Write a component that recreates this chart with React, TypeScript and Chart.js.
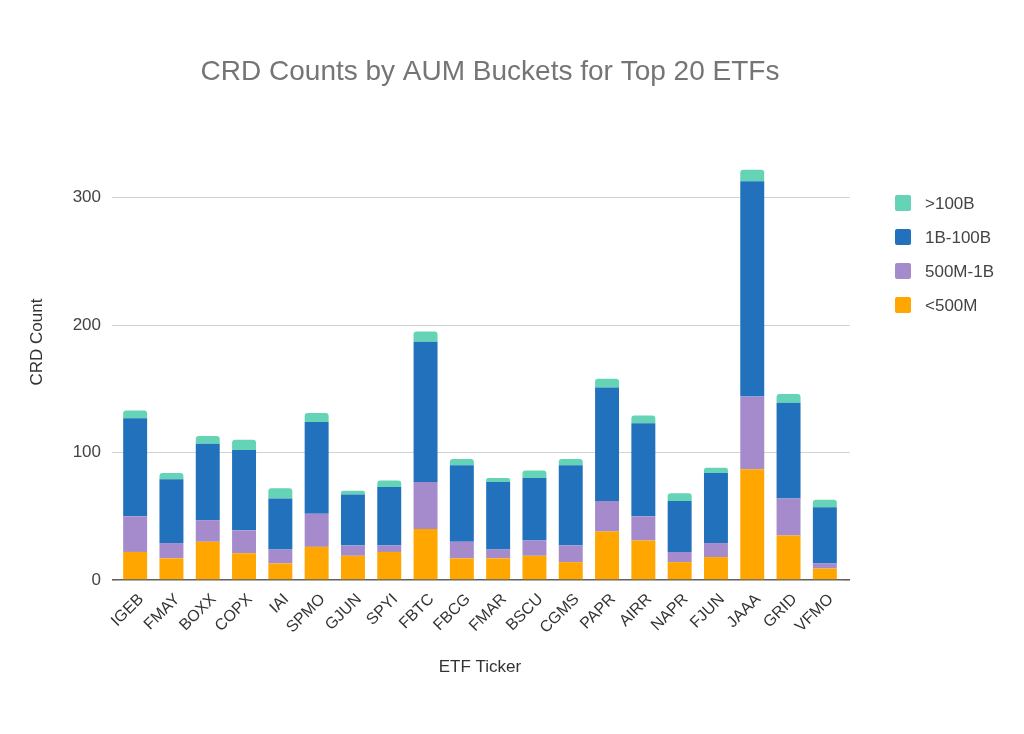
import React, { useEffect, useRef } from "react";
import { Chart, registerables } from "chart.js";

Chart.register(...registerables);

const tickers = [
  "IGEB", "FMAY", "BOXX", "COPX", "IAI", "SPMO", "GJUN", "SPYI", "FBTC", "FBCG",
  "FMAR", "BSCU", "CGMS", "PAPR", "AIRR", "NAPR", "FJUN", "JAAA", "GRID", "VFMO",
];
const under500M = [22, 17, 30, 21, 13, 26, 19, 22, 40, 17, 17, 19, 14, 38, 31, 14, 18, 87, 35, 9];
const m500To1B = [28, 12, 17, 18, 11, 26, 8, 5, 37, 13, 7, 12, 13, 24, 19, 8, 11, 57, 29, 4];
const b1To100B = [77, 50, 60, 63, 40, 72, 40, 46, 110, 60, 53, 49, 63, 89, 73, 40, 55, 169, 75, 44];
const over100B = [6, 5, 6, 8, 8, 7, 3, 5, 8, 5, 3, 6, 5, 7, 6, 6, 4, 9, 7, 6];
const yTicks = [0, 100, 200, 300];
const yMax = 350;
const yTitle = "CRD Count";

const FONT = '"Liberation Sans", Arial, sans-serif';

const sideLegend = {
  id: "sideLegend",
  afterDraw(chart: any) {
    const { ctx, chartArea } = chart;
    const items = [...chart.data.datasets].reverse();
    const boxX = chartArea.right + 52;
    const firstY = chartArea.top + 69;
    const step = 34;
    const size = 16;
    ctx.save();
    ctx.font = `17px ${FONT}`;
    ctx.textBaseline = "middle";
    ctx.textAlign = "left";
    items.forEach((ds: any, i: number) => {
      const cy = firstY + i * step;
      ctx.fillStyle = ds.backgroundColor;
      ctx.beginPath();
      if (ctx.roundRect) ctx.roundRect(boxX, cy - size / 2, size, size, 2);
      else ctx.rect(boxX, cy - size / 2, size, size);
      ctx.fill();
      ctx.fillStyle = "#444444";
      ctx.fillText(ds.label, boxX + 30, cy + 1);
    });
    // y axis title
    ctx.translate(37, chartArea.top + 208);
    ctx.rotate(-Math.PI / 2);
    ctx.textAlign = "center";
    ctx.fillStyle = "#333333";
    ctx.fillText(yTitle, 0, 0);
    ctx.restore();
  },
};

const keepTicks = (axis: any) => {
  axis.ticks = axis.ticks.filter((t: any) => yTicks.includes(t.value));
};
const gridColor = (c: any) => (c.tick && c.tick.value === 0 ? "#606060" : "#d3d3d3");
const gridWidth = (c: any) => (c.tick && c.tick.value === 0 ? 1.6 : 1);

export default function App() {
  const ref = useRef<HTMLCanvasElement | null>(null);

  useEffect(() => {
    if (!ref.current) return;
    const chart = new Chart(ref.current, {
      type: "bar",
      data: {
        labels: tickers,
        datasets: [
          { label: "<500M", data: under500M, backgroundColor: "#ffa600" },
          { label: "500M-1B", data: m500To1B, backgroundColor: "#a58bcb" },
          { label: "1B-100B", data: b1To100B, backgroundColor: "#2271bc" },
          {
            label: ">100B",
            data: over100B,
            backgroundColor: "#64d3b6",
            borderRadius: { topLeft: 3, topRight: 3, bottomLeft: 0, bottomRight: 0 },
            borderSkipped: false,
          },
        ],
      },
      options: {
        animation: false,
        responsive: true,
        maintainAspectRatio: false,
        datasets: { bar: { barPercentage: 0.66, categoryPercentage: 1 } },
        layout: { padding: { left: 0, right: 44, top: 0, bottom: 56.8 } },
        plugins: {
          legend: { display: false },
          tooltip: { enabled: false },
          title: {
            display: true,
            text: "CRD Counts by AUM Buckets for Top 20 ETFs",
            color: "#757575",
            font: { family: FONT, size: 28, weight: "normal" },
            padding: { top: 55.2, bottom: 45.2 },
          },
        },
        scales: {
          x: {
            stacked: true,
            grid: { display: false },
            border: { display: false },
            ticks: {
              color: "#333333",
              font: { family: FONT, size: 16 },
              minRotation: 45,
              maxRotation: 45,
              autoSkip: false,
              padding: 2,
              labelOffset: 6,
            },
            title: {
              display: true,
              text: "ETF Ticker",
              color: "#333333",
              font: { family: FONT, size: 17 },
              padding: { top: 0, bottom: 0 },
            },
            afterFit: (s: any) => {
              s.height = 97.2;
            },
          },
          y: {
            stacked: true,
            min: 0,
            max: yMax,
            afterBuildTicks: keepTicks,
            grid: { color: gridColor, lineWidth: gridWidth, drawTicks: true, tickLength: 5 },
            border: { display: false },
            ticks: {
              stepSize: 100,
              color: "#444444",
              font: { family: FONT, size: 17 },
              padding: 11,
            },
            title: { display: false },
            afterFit: (s: any) => {
              s.width = 117;
            },
          },
          yRight: {
            position: "right",
            min: 0,
            max: yMax,
            afterBuildTicks: keepTicks,
            grid: {
              color: gridColor,
              lineWidth: gridWidth,
              drawOnChartArea: false,
              drawTicks: true,
              tickLength: 7,
            },
            border: { display: false },
            ticks: { display: false, stepSize: 100 },
            afterFit: (s: any) => {
              s.width = 137;
            },
          },
        },
      },
      plugins: [sideLegend],
    });
    return () => chart.destroy();
  }, []);

  return (
    <div style={{ position: "absolute", left: 0, top: 0, width: 1024, height: 734, background: "#fff" }}>
      <canvas ref={ref} />
    </div>
  );
}
